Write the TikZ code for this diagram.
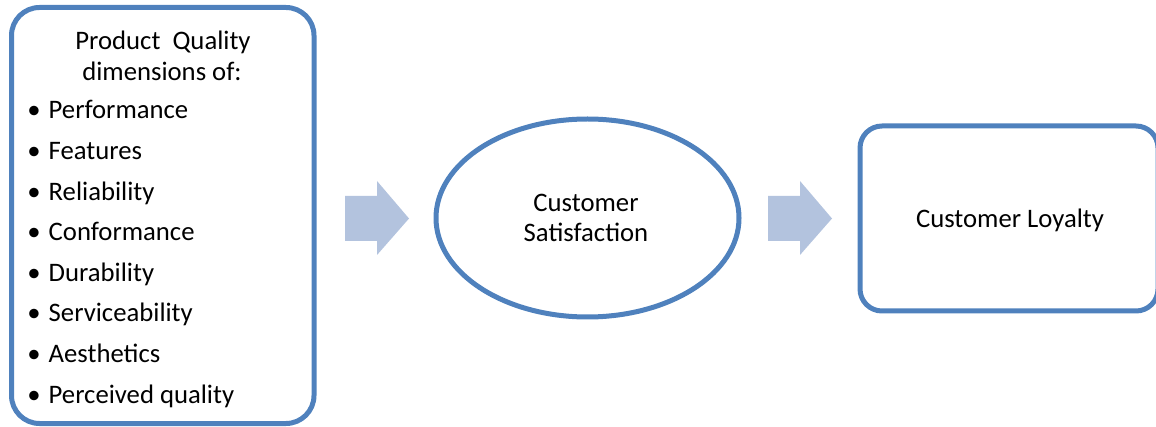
\documentclass[tikz,border=0pt]{standalone}
\usepackage{fontspec}
\setmainfont{Carlito}
\usetikzlibrary{shapes.geometric}
\definecolor{frameblue}{HTML}{4F81BD}
\definecolor{arrowblue}{HTML}{B3C3DE}
\tikzset{
  frame/.style={draw=frameblue, line width=5pt},
  txt/.style={font=\fontsize{26.7}{32}\selectfont, inner sep=0pt},
  blockarrow/.style={fill=arrowblue, draw=none},
}
\begin{document}
\begin{tikzpicture}[x=1pt,y=-1pt]
\useasboundingbox (0,0) rectangle (1156,427);
% left box
\draw[frame, rounded corners=28pt] (11.5,7.5) rectangle (314,423.5);
\node[txt, anchor=base] (t1) at (163,49.5) {Product\ \ Quality};
\node[txt, anchor=base] (t2) at (162,80.5) {dimensions of:};
\foreach \i/\t in {0/Performance,1/Features,2/Reliability,3/Conformance,4/Durability,5/Serviceability,6/Aesthetics,7/Perceived quality}{
  \node[txt, anchor=base] (d\i) at (34,119+40.6*\i) {\textbullet};
  \node[txt, anchor=base west] (b\i) at (48.5,119+40.6*\i) {\t};
}
% ellipse
\node[frame, ellipse, minimum width=303pt, minimum height=198pt, inner sep=0pt] (sat) at (587.5,218) {};
\node[txt, anchor=base] (s1) at (586,212) {Customer};
\node[txt, anchor=base] (s2) at (586,241.5) {Satisfaction};
% right box
\draw[frame, rounded corners=22pt] (860,126) rectangle (1158,311);
\node[txt, anchor=base] (loy) at (1010,228) {Customer Loyalty};
% block arrows
\foreach \x in {345,768}{
  \fill[blockarrow] (\x,196) -- (\x+32,196) -- (\x+32,181) -- (\x+64,218.5) -- (\x+32,255) -- (\x+32,241) -- (\x,241) -- cycle;
}
\end{tikzpicture}
\end{document}
